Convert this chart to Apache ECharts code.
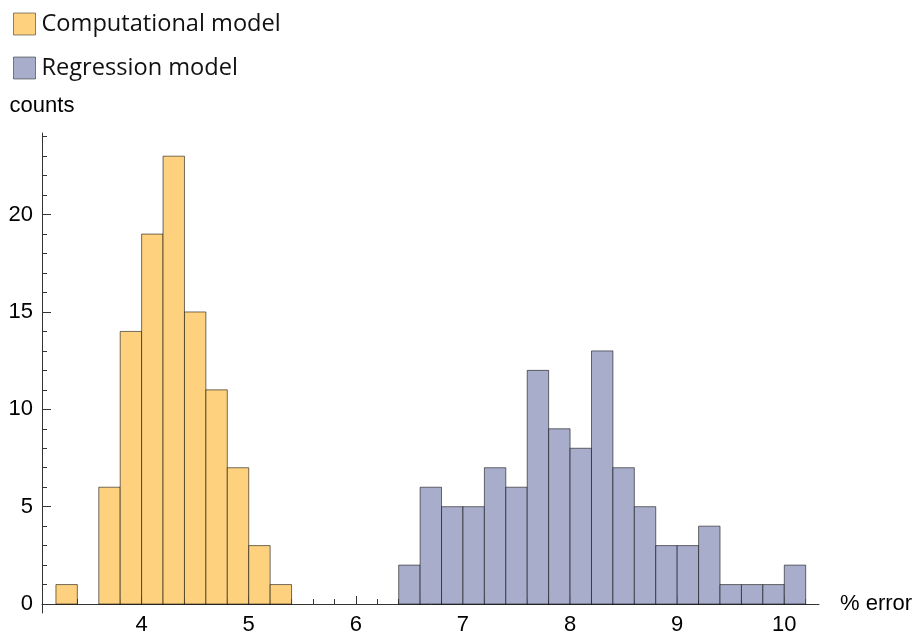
<!DOCTYPE html>
<html>
<head>
<meta charset="utf-8">
<script src="https://cdn.jsdelivr.net/npm/echarts@6/dist/echarts.min.js"></script>
<style>html,body{margin:0;padding:0;background:#fff;}#c{width:918px;height:634px;}</style>
</head>
<body>
<div id="c"></div>
<script>
// Bin width 0.2; each bin given by its left edge
const binWidth = 0.2;
const compBinStarts = [3.2, 3.4, 3.6, 3.8, 4.0, 4.2, 4.4, 4.6, 4.8, 5.0, 5.2];
const compCounts    = [1,   0,   6,   14,  19,  23,  15,  11,  7,   3,   1];
const regBinStarts = [6.4, 6.6, 6.8, 7.0, 7.2, 7.4, 7.6, 7.8, 8.0, 8.2, 8.4, 8.6, 8.8, 9.0, 9.2, 9.4, 9.6, 9.8, 10.0];
const regCounts    = [2,   6,   5,   5,   7,   6,   12,  9,   8,   13,  7,   5,   3,   3,   4,   1,   1,   1,   2];
const xMajorTicks = [4, 5, 6, 7, 8, 9, 10];
const xMinorTicks = [3.2,3.4,3.6,3.8,4.2,4.4,4.6,4.8,5.2,5.4,5.6,5.8,6.2,6.4,6.6,6.8,7.2,7.4,7.6,7.8,8.2,8.4,8.6,8.8,9.2,9.4,9.6,9.8,10.2];
const yMajorTicks = [0, 5, 10, 15, 20];
const yMinorTicks = [1,2,3,4,6,7,8,9,11,12,13,14,16,17,18,19,21,22,23,24];
const seriesNames = ['Computational model', 'Regression model'];

const compColor = '#FDD17E';
const regColor = '#A8ADCB';
const edgeColor = 'rgba(0,0,0,0.55)';

function toData(starts, counts) {
  const out = [];
  starts.forEach((s, i) => { if (counts[i] > 0) out.push([s, s + binWidth, counts[i]]); });
  return out;
}

function makeRender(fill) {
  return function (params, api) {
    const p0 = api.coord([api.value(0), api.value(2)]);
    const p1 = api.coord([api.value(1), 0]);
    return {
      type: 'rect',
      shape: { x: p0[0], y: p0[1], width: p1[0] - p0[0], height: p1[1] - p0[1] },
      style: { fill: fill, stroke: edgeColor, lineWidth: 1 }
    };
  };
}

const XMIN = 3.07, XMAX = 10.324, YMIN = -0.46, YMAX = 24.19;
const labelFont = { fontFamily: '"Liberation Sans", Arial, sans-serif', fontSize: 22, color: '#000' };
const axisLineStyle = { color: '#333', width: 1 };

const chart = echarts.init(document.getElementById('c'), null, { renderer: 'canvas' });
chart.setOption({
  animation: false,
  backgroundColor: '#fff',
  legend: {
    orient: 'vertical', left: 8, top: 7,
    itemWidth: 22, itemHeight: 22, itemGap: 20,
    icon: 'rect',
    itemStyle: { borderColor: 'rgba(0,0,0,0.45)', borderWidth: 1 },
    textStyle: { fontFamily: '"Open Sans", sans-serif', fontSize: 23.6, lineHeight: 22, color: '#111', padding: [0, 0, 0, 1] },
    data: seriesNames
  },
  grid: { left: 42, right: 99, top: 133, bottom: 21, containLabel: false, outerBoundsMode: 'none' },
  xAxis: [
    {
      type: 'value', min: XMIN, max: XMAX,
      name: '% error', nameLocation: 'end', nameGap: 21,
      nameTextStyle: Object.assign({}, labelFont, { verticalAlign: 'middle', align: 'left' }),
      axisLine: { onZero: true, lineStyle: axisLineStyle },
      axisTick: { show: true, inside: true, length: 8, customValues: xMajorTicks, lineStyle: axisLineStyle },
      axisLabel: Object.assign({ margin: 1, customValues: xMajorTicks }, labelFont),
      splitLine: { show: false }
    },
    {
      type: 'value', min: XMIN, max: XMAX, position: 'bottom',
      axisLine: { show: false, onZero: true, onZeroAxisIndex: 0 },
      axisTick: { show: true, inside: true, length: 5, customValues: xMinorTicks, lineStyle: axisLineStyle },
      axisLabel: { show: false },
      splitLine: { show: false }
    }
  ],
  yAxis: [
    {
      type: 'value', min: YMIN, max: YMAX,
      name: 'counts', nameLocation: 'end', nameGap: 16,
      nameTextStyle: Object.assign({ align: 'center', verticalAlign: 'bottom' }, labelFont),
      axisLine: { onZero: false, lineStyle: axisLineStyle },
      axisTick: { show: true, inside: true, length: 9, customValues: yMajorTicks, lineStyle: axisLineStyle },
      axisLabel: Object.assign({ margin: 9, customValues: yMajorTicks }, labelFont),
      splitLine: { show: false }
    },
    {
      type: 'value', min: YMIN, max: YMAX, position: 'left',
      axisLine: { show: false, onZero: false },
      axisTick: { show: true, inside: true, length: 5, customValues: yMinorTicks, lineStyle: axisLineStyle },
      axisLabel: { show: false },
      splitLine: { show: false }
    }
  ],
  series: [
    {
      name: seriesNames[0], type: 'custom', xAxisIndex: 0, yAxisIndex: 0,
      itemStyle: { color: compColor },
      renderItem: makeRender(compColor),
      encode: { x: [0, 1], y: 2 },
      data: toData(compBinStarts, compCounts)
    },
    {
      name: seriesNames[1], type: 'custom', xAxisIndex: 0, yAxisIndex: 0,
      itemStyle: { color: regColor },
      renderItem: makeRender(regColor),
      encode: { x: [0, 1], y: 2 },
      data: toData(regBinStarts, regCounts)
    }
  ]
});
</script>
</body>
</html>
